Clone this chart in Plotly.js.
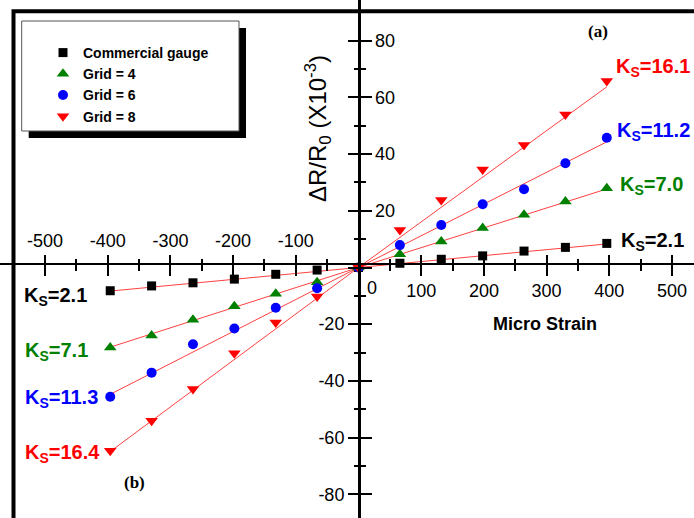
<!DOCTYPE html>
<html>
<head>
<meta charset="utf-8">
<script src="https://cdn.plot.ly/plotly-3.0.1.min.js"></script>
<style>
  html, body { margin: 0; padding: 0; background: #ffffff; }
  #chart { width: 694px; height: 518px; }
</style>
</head>
<body>
<div id="chart"></div>
<script>
// Applied micro strain (same steps for every gauge)
const strain = [-396, -330, -264, -198, -132, -66, 0, 66, 132, 198, 264, 330, 396];

// Measured resistance change for each gauge
const commercialGauge = [-8.2, -6.5, -5.4, -4.1, -2.4, -0.9, 0, 1.5, 2.9, 4.1, 5.8, 7.1, 8.5];
const grid4 = [-28.2, -24.0, -18.4, -13.7, -9.3, -5.2, 0, 4.7, 9.2, 13.9, 18.6, 23.3, 28.0];
const grid6 = [-45.6, -37.1, -27.1, -21.5, -14.2, -7.3, 0, 7.9, 15.0, 22.3, 27.6, 36.8, 45.8];
const grid8 = [-64.7, -54.1, -42.9, -30.3, -19.4, -10.2, 0, 13.2, 23.8, 34.6, 43.2, 54.0, 65.8];

const seriesNames = ['Commercial gauge', 'Grid = 4', 'Grid = 6', 'Grid = 8'];

// Gauge factors of the linear fits, compression (b) and tension (a) branches
const ksCompression = [2.1, 7.1, 11.3, 16.4];
const ksTension = [2.1, 7.0, 11.2, 16.1];

// Axis ticks
const xMajorTicks = [-500, -400, -300, -200, -100, 0, 100, 200, 300, 400, 500];
const xMinorTicks = [-550, -450, -350, -250, -150, -50, 50, 150, 250, 350, 450, 550];
const yMajorTicks = [-80, -60, -40, -20, 0, 20, 40, 60, 80];
const yMinorTicks = [-90, -70, -50, -30, -10, 10, 30, 50, 70, 90];

const sans = 'Liberation Sans, Arial, Helvetica, sans-serif';
const serif = 'Liberation Serif, Times New Roman, serif';

const seriesData = [commercialGauge, grid4, grid6, grid8];
const colors = ['#000000', '#008000', '#0000ff', '#ff0000'];
const symbols = ['square', 'triangle-up', 'circle', 'triangle-down'];
const sizes = [9, 11, 10, 11];

// Fitted response: dR/R0 (plotted units) = Ks * strain / 100
const fitScale = 100;
const xMin = strain[0];
const xMax = strain[strain.length - 1];

// Fit lines sit on the primary axes; measured points on the overlaid
// pair (same ranges) so they are painted on top of the lines.
const traces = [];
seriesData.forEach(function (vals, i) {
  traces.push({
    x: [xMin, 0, xMax],
    y: [ksCompression[i] * xMin / fitScale, 0, ksTension[i] * xMax / fitScale],
    xaxis: 'x', yaxis: 'y',
    mode: 'lines',
    line: { color: 'rgba(255,0,0,0.75)', width: 1 },
    showlegend: false,
    hoverinfo: 'skip'
  });
});
seriesData.forEach(function (vals, i) {
  traces.push({
    x: strain,
    y: vals,
    xaxis: 'x2', yaxis: 'y2',
    name: seriesNames[i],
    mode: 'markers',
    marker: { symbol: symbols[i], color: colors[i], size: sizes[i] }
  });
});

const W = 694, H = 518;
const px = function (v) { return v / W; };
const py = function (v) { return 1 - v / H; };

const xRange = [-571.8, 535.1];
const yRange = [-88.4, 94.4];
const xAxisPos = py(263.5);
const yAxisPos = px(359);

function labelsFor(vals, keep) {
  return vals.map(function (v) { return keep(v) ? String(v) : ''; });
}

const tickFont = { family: sans, size: 18, color: '#000000' };

const layout = {
  width: W,
  height: H,
  margin: { l: 0, r: 0, t: 0, b: 0 },
  paper_bgcolor: '#ffffff',
  plot_bgcolor: '#ffffff',
  showlegend: true,
  xaxis: {
    range: xRange, anchor: 'free', position: xAxisPos, side: 'bottom',
    showline: true, linecolor: '#000000', linewidth: 2,
    showgrid: false, zeroline: false,
    tickmode: 'array', tickvals: xMajorTicks,
    ticktext: labelsFor(xMajorTicks, function (v) { return v > 0; }),
    ticks: 'outside', ticklen: 11, tickwidth: 2, tickcolor: '#000000',
    tickfont: tickFont,
    minor: { tickmode: 'array', tickvals: xMinorTicks, ticks: 'outside', ticklen: 6, tickwidth: 2, tickcolor: '#000000' },
    fixedrange: true
  },
  xaxis2: {
    range: xRange, overlaying: 'x', anchor: 'free', position: xAxisPos, side: 'top',
    showline: false, showgrid: false, zeroline: false,
    tickmode: 'array', tickvals: xMajorTicks,
    ticktext: labelsFor(xMajorTicks, function (v) { return v < 0; }),
    ticks: 'outside', ticklen: 9, tickwidth: 2, tickcolor: '#000000',
    tickfont: tickFont,
    minor: { tickmode: 'array', tickvals: xMinorTicks, ticks: 'outside', ticklen: 4.5, tickwidth: 2, tickcolor: '#000000' },
    fixedrange: true
  },
  yaxis: {
    range: yRange, anchor: 'free', position: yAxisPos, side: 'right',
    showline: true, linecolor: '#000000', linewidth: 2.5,
    showgrid: false, zeroline: false,
    tickmode: 'array', tickvals: yMajorTicks,
    ticktext: labelsFor(yMajorTicks, function (v) { return v > 0; }),
    ticks: 'outside', ticklen: 11, tickwidth: 2, tickcolor: '#000000',
    tickfont: tickFont,
    minor: { tickmode: 'array', tickvals: yMinorTicks, ticks: 'outside', ticklen: 5.5, tickwidth: 2, tickcolor: '#000000' },
    fixedrange: true
  },
  yaxis2: {
    range: yRange, overlaying: 'y', anchor: 'free', position: yAxisPos, side: 'left',
    showline: false, showgrid: false, zeroline: false,
    tickmode: 'array', tickvals: yMajorTicks,
    ticktext: labelsFor(yMajorTicks, function (v) { return v < 0; }),
    ticks: 'outside', ticklen: 11, tickwidth: 2, tickcolor: '#000000',
    tickfont: tickFont,
    minor: { tickmode: 'array', tickvals: yMinorTicks, ticks: 'outside', ticklen: 5.5, tickwidth: 2, tickcolor: '#000000' },
    fixedrange: true
  },
  legend: {
    x: px(43), y: py(37), xanchor: 'left', yanchor: 'top',
    bgcolor: 'rgba(0,0,0,0)', borderwidth: 0,
    font: { family: sans, size: 14, color: '#000000', weight: 'bold' },
    itemclick: false, itemdoubleclick: false
  },
  shapes: [
    // outer frame
    { type: 'rect', xref: 'paper', yref: 'paper', x0: px(13.5), x1: 1.05, y0: -0.05, y1: py(11.3),
      line: { color: '#000000', width: 4 }, fillcolor: 'rgba(0,0,0,0)' },
    // legend box shadow and box
    { type: 'rect', xref: 'paper', yref: 'paper', x0: px(28.7), x1: px(246), y0: py(138), y1: py(28),
      line: { width: 0 }, fillcolor: '#000000' },
    { type: 'rect', xref: 'paper', yref: 'paper', x0: px(21.7), x1: px(239), y0: py(131), y1: py(21),
      line: { color: '#555555', width: 1 }, fillcolor: '#ffffff' }
  ],
  annotations: []
};

const ann = layout.annotations;

// zero label of the strain axis, moved clear of the vertical axis
ann.push({ text: '0', xref: 'x', yref: 'paper', x: 0, y: py(288.3), xshift: 13,
  showarrow: false, font: tickFont, xanchor: 'center', yanchor: 'middle' });

// axis titles
ann.push({ text: '<b>Micro Strain</b>', xref: 'paper', yref: 'paper', x: px(545), y: py(324),
  showarrow: false, font: { family: sans, size: 18, color: '#000000' }, xanchor: 'center', yanchor: 'middle' });
ann.push({ text: '\u0394R/R<sub>0</sub> (X10<sup>-3</sup>)', xref: 'paper', yref: 'paper', x: px(318), y: py(129),
  textangle: -90, showarrow: false, font: { family: sans, size: 24, color: '#000000' },
  xanchor: 'center', yanchor: 'middle' });

// panel tags
ann.push({ text: '<b>(a)</b>', xref: 'paper', yref: 'paper', x: px(597.5), y: py(31.7),
  showarrow: false, font: { family: serif, size: 17, color: '#000000' }, xanchor: 'center', yanchor: 'middle' });
ann.push({ text: '<b>(b)</b>', xref: 'paper', yref: 'paper', x: px(134), y: py(482),
  showarrow: false, font: { family: serif, size: 17, color: '#000000' }, xanchor: 'center', yanchor: 'middle' });

// gauge factor labels
const tensionLabelPos = [[619, 242], [618, 186], [615, 132], [614, 68]];
const compressionLabelPos = [[22, 296], [23, 351], [23, 398.7], [23, 453.7]];
function ksLabel(k) { return '<b>K<sub>S</sub>=' + k.toFixed(1) + '</b>'; }
for (let i = 0; i < 4; i++) {
  ann.push({ text: ksLabel(ksTension[i]), xref: 'paper', yref: 'paper',
    x: px(tensionLabelPos[i][0]), y: py(tensionLabelPos[i][1]),
    showarrow: false, xanchor: 'left', yanchor: 'middle',
    font: { family: sans, size: 20, color: colors[i] } });
  ann.push({ text: ksLabel(ksCompression[i]), xref: 'paper', yref: 'paper',
    x: px(compressionLabelPos[i][0]), y: py(compressionLabelPos[i][1]),
    showarrow: false, xanchor: 'left', yanchor: 'middle',
    font: { family: sans, size: 20, color: colors[i] } });
}

Plotly.newPlot('chart', traces, layout, { staticPlot: true, displayModeBar: false });
</script>
</body>
</html>
